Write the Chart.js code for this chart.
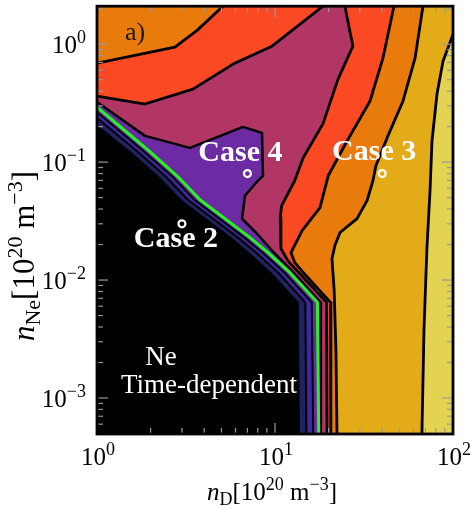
<!DOCTYPE html>
<html>
<head>
<meta charset="utf-8">
<title>Ne time-dependent scan</title>
<script src="https://cdn.jsdelivr.net/npm/chart.js@4.4.1/dist/chart.umd.min.js"></script>
<style>
  html, body { margin: 0; padding: 0; background: #ffffff; }
  canvas { display: block; }
</style>
</head>
<body>
<canvas id="scan" width="470" height="508"></canvas>
<script>
// axis limits, n_D and n_Ne in 10^20 m^-3
const ND_MIN = 1, ND_MAX = 100;
const NNE_MIN = 4.95e-4, NNE_MAX = 2.1;

// tick values and their labels (mantissa, exponent)
const xTickValues = [1, 10, 100];
const xTickLabels = [['10', '0'], ['10', '1'], ['10', '2']];
const yTickValues = [1, 0.1, 0.01, 0.001];
const yTickLabels = [['10', '0'], ['10', '\u22121'], ['10', '\u22122'], ['10', '\u22123']];

// contour boundaries as [n_D, n_Ne] vertices, lowest level first
const edgeBlackNavy = [[1, 0.207], [1.56, 0.122], [2.24, 0.0751], [2.98, 0.048], [5.7, 0.0229], [7.19, 0.0171], [9.56, 0.0116], [13.6, 0.00647], [13.8, NNE_MIN]];
const edgeNavyIndigo = [[1, 0.237], [1.7, 0.122], [2.44, 0.0751], [3.24, 0.048], [6.2, 0.0229], [7.82, 0.0171], [10.4, 0.0116], [14.8, 0.00647], [15.0, NNE_MIN]];
const edgeIndigoPurple = [[1, 0.266], [1.3, 0.191], [1.85, 0.122], [2.66, 0.0751], [3.53, 0.048], [6.74, 0.0229], [8.51, 0.0171], [11.3, 0.0116], [16.1, 0.00647], [16.4, NNE_MIN]];
const greenContour = [[1, 0.293], [1.4, 0.191], [1.99, 0.122], [2.85, 0.0751], [3.79, 0.048], [7.24, 0.0229], [9.14, 0.0171], [12.1, 0.0116], [17.3, 0.00647], [17.6, NNE_MIN]];
const edgePurpleBerry = [[1, 0.323], [1.86, 0.167], [3.33, 0.132], [6.61, 0.199], [8.45, 0.177], [8.56, 0.0766], [7.92, 0.0682], [6.78, 0.0519], [6.53, 0.0332], [7.82, 0.0253], [9.62, 0.0178], [12.7, 0.0116], [18.0, 0.00647], [18.1, NNE_MIN]];
const edgeBerryRedUpper = [[1, 0.363], [1.86, 0.311], [3.46, 0.416], [5.81, 0.678], [9.62, 0.962], [18.6, NNE_MAX]];
const edgeBerryRed = [[24.7, NNE_MAX], [27.4, 0.962], [22.6, 0.506], [18.6, 0.211], [14.4, 0.109], [12.9, 0.0695], [10.9, 0.0427], [10.7, 0.0338], [10.8, 0.0185], [11.8, 0.0146], [13.6, 0.0116], [19.5, 0.00647], [19.6, NNE_MIN]];
const edgeRedOrangeUpper = [[1, 0.691], [2.74, 0.943], [3.65, 1.31], [5.1, NNE_MAX]];
const edgeRedOrange = [[46.6, NNE_MAX], [40.4, 0.761], [34.2, 0.33], [25.4, 0.151], [19.9, 0.0766], [17.9, 0.0411], [14.2, 0.0263], [12.3, 0.0171], [12.9, 0.0141], [14.4, 0.0116], [20.5, 0.00647], [20.6, NNE_MIN]];
const edgeOrangeGold = [[67.8, NNE_MAX], [61.2, 0.761], [52.4, 0.33], [43.1, 0.167], [36.9, 0.0931], [35.5, 0.0695], [32.9, 0.0471], [28.9, 0.0332], [23.2, 0.0253], [21.7, 0.0196], [20.9, 0.0152], [21.5, 0.00817], [22.0, 0.00254], [22.3, NNE_MIN]];
const edgeGoldYellow = [[100, 1.21], [87.9, 0.718], [81.3, 0.378], [76.2, 0.151], [74.3, 0.0572], [71.4, 0.0189], [68.7, 0.00375], [66.9, NNE_MIN]];

// marked operating points
const caseNames = ['Case 2', 'Case 3', 'Case 4'];
const caseND = [3, 40, 7];
const caseNNe = [0.03, 0.08, 0.08];

// band colours
const C_YELLOW = '#e4d251', C_GOLD = '#e4ab18', C_ORANGE = '#e87b0b', C_RED = '#fb4923',
      C_BERRY = '#b13666', C_PURPLE = '#6c2ba2', C_INDIGO = '#3e27a0', C_NAVY = '#202262',
      C_BLACK = '#000000', C_GREEN = '#22f522';

const BL = [ND_MIN, NNE_MIN];
const fillLayers = [
  { pts: [[ND_MIN, NNE_MAX], [ND_MAX, NNE_MAX], [ND_MAX, NNE_MIN], BL], color: C_YELLOW },
  { pts: [[ND_MIN, NNE_MAX], [ND_MAX, NNE_MAX], ...edgeGoldYellow, BL], color: C_GOLD },
  { pts: [[ND_MIN, NNE_MAX], ...edgeOrangeGold, BL], color: C_ORANGE },
  { pts: [...edgeRedOrangeUpper, ...edgeRedOrange, BL], color: C_RED },
  { pts: [...edgeBerryRedUpper, ...edgeBerryRed, BL], color: C_BERRY },
  { pts: [...edgePurpleBerry, BL], color: C_PURPLE },
  { pts: [...edgeIndigoPurple, BL], color: C_INDIGO },
  { pts: [...edgeNavyIndigo, BL], color: C_NAVY },
  { pts: [...edgeBlackNavy, BL], color: C_BLACK }
];

const SERIF = '"Liberation Serif", "Times New Roman", serif';

// filled bands, painted from the outermost level inwards
const contourFill = {
  id: 'contourFill',
  beforeDatasetsDraw(chart) {
    const { ctx, chartArea: a, scales: { x, y } } = chart;
    ctx.save();
    ctx.beginPath();
    ctx.rect(a.left, a.top, a.right - a.left, a.bottom - a.top);
    ctx.clip();
    for (const layer of fillLayers) {
      ctx.beginPath();
      layer.pts.forEach(([nd, nne], i) => {
        const px = x.getPixelForValue(nd), py = y.getPixelForValue(nne);
        if (i) ctx.lineTo(px, py); else ctx.moveTo(px, py);
      });
      ctx.closePath();
      ctx.fillStyle = layer.color;
      ctx.fill();
    }
    ctx.restore();
  }
};

function richWidth(ctx, parts) {
  let w = 0;
  for (const p of parts) { ctx.font = p.f; w += ctx.measureText(p.t).width; }
  return w;
}
function drawRich(ctx, parts, x, y, align) {
  const w = richWidth(ctx, parts);
  let cx = align === 'center' ? x - w / 2 : align === 'right' ? x - w : x;
  ctx.textAlign = 'left';
  ctx.textBaseline = 'alphabetic';
  for (const p of parts) {
    ctx.font = p.f;
    ctx.fillText(p.t, cx, y + (p.dy || 0));
    cx += ctx.measureText(p.t).width;
  }
}
function unitParts(sym, sub, s) {
  const big = Math.round(25 * s) + 'px ' + SERIF, small = Math.round(18 * s) + 'px ' + SERIF;
  return [
    { t: sym, f: 'italic ' + big },
    { t: sub, f: small, dy: 5 * s },
    { t: '[10', f: big },
    { t: '20', f: small, dy: -10 * s },
    { t: ' m', f: big },
    { t: '\u22123', f: small, dy: -10 * s },
    { t: ']', f: big }
  ];
}

// frame, inward ticks, tick labels, axis titles and annotations
const decorations = {
  id: 'decorations',
  afterDraw(chart) {
    const { ctx, chartArea: a, scales: { x, y } } = chart;
    ctx.save();

    ctx.strokeStyle = '#9a9a9a';
    ctx.lineWidth = 1.2;
    const seg = (x1, y1, x2, y2) => { ctx.beginPath(); ctx.moveTo(x1, y1); ctx.lineTo(x2, y2); ctx.stroke(); };
    for (let k = 0; k <= 2; k++) {
      for (let m = 1; m <= 9; m++) {
        const v = m * Math.pow(10, k);
        if (v <= ND_MIN || v >= ND_MAX) continue;
        const px = x.getPixelForValue(v);
        const len = m === 1 ? 11 : 6;
        seg(px, a.bottom, px, a.bottom - len);
        seg(px, a.top, px, a.top + len);
      }
    }
    for (let k = -4; k <= 0; k++) {
      for (let m = 1; m <= 9; m++) {
        const v = m * Math.pow(10, k);
        if (v <= NNE_MIN || v >= NNE_MAX) continue;
        const py = y.getPixelForValue(v);
        const len = m === 1 ? 11 : 6;
        seg(a.left, py, a.left + len, py);
        seg(a.right, py, a.right - len, py);
      }
    }

    ctx.strokeStyle = '#000';
    ctx.lineWidth = 2.8;
    ctx.strokeRect(a.left, a.top, a.right - a.left, a.bottom - a.top);

    ctx.fillStyle = '#000';
    xTickValues.forEach((v, i) => {
      const [base, exp] = xTickLabels[i];
      drawRich(ctx, [{ t: base, f: '25px ' + SERIF }, { t: exp, f: '18px ' + SERIF, dy: -10 }],
        x.getPixelForValue(v) + 1, a.bottom + 31, 'center');
    });
    yTickValues.forEach((v, i) => {
      const [base, exp] = yTickLabels[i];
      drawRich(ctx, [{ t: base, f: '25px ' + SERIF }, { t: exp, f: '18px ' + SERIF, dy: -10 }],
        a.left - 11, y.getPixelForValue(v) + 9, 'right');
    });

    drawRich(ctx, unitParts('n', 'D', 1), (a.left + a.right) / 2 - 3, a.bottom + 66, 'center');
    ctx.save();
    ctx.translate(a.left - 63, 256);
    ctx.rotate(-Math.PI / 2);
    drawRich(ctx, unitParts('n', 'Ne', 1.22), 0, 0, 'center');
    ctx.restore();

    ctx.fillStyle = '#1a1a1a';
    ctx.font = '26px ' + SERIF;
    ctx.textAlign = 'left';
    ctx.fillText('a)', a.left + 28, a.top + 34);

    ctx.fillStyle = '#ffffff';
    ctx.textAlign = 'center';
    const caseOffsets = [[-6, 23], [-8, -14], [-7, -13]];
    caseNames.forEach((name, i) => {
      ctx.font = 'bold 30px ' + SERIF;
      ctx.fillText(name, x.getPixelForValue(caseND[i]) + caseOffsets[i][0],
        y.getPixelForValue(caseNNe[i]) + caseOffsets[i][1]);
    });
    ctx.font = '27px ' + SERIF;
    ctx.fillText('Ne', a.left + 64, a.top + 359);
    ctx.fillText('Time-dependent', a.left + 112, a.top + 387);

    ctx.restore();
  }
};

const contourLine = (pts, color, width, order) => ({
  type: 'line',
  data: pts.map(([nd, nne]) => ({ x: nd, y: nne })),
  borderColor: color,
  borderWidth: width,
  borderJoinStyle: 'round',
  pointRadius: 0,
  fill: false,
  tension: 0,
  order
});

const datasets = [
  {
    type: 'line',
    data: caseND.map((nd, i) => ({ x: nd, y: caseNNe[i] })),
    showLine: false,
    pointRadius: 3.5,
    pointBorderWidth: 2.2,
    pointBorderColor: '#ffffff',
    pointBackgroundColor: 'rgba(0,0,0,0)',
    order: 0
  },
  contourLine(greenContour, C_GREEN, 3, 1),
  contourLine(edgeNavyIndigo, '#000', 2, 2),
  contourLine(edgeIndigoPurple, '#000', 2, 2),
  contourLine(edgePurpleBerry, '#000', 2.5, 2),
  contourLine(edgeBerryRedUpper, '#000', 2.8, 2),
  contourLine(edgeBerryRed, '#000', 2.8, 2),
  contourLine(edgeRedOrangeUpper, '#000', 2.8, 2),
  contourLine(edgeRedOrange, '#000', 2.8, 2),
  contourLine(edgeOrangeGold, '#000', 2.8, 2),
  contourLine(edgeGoldYellow, '#000', 2.8, 2)
];

new Chart(document.getElementById('scan'), {
  type: 'line',
  data: { datasets },
  options: {
    responsive: false,
    animation: false,
    devicePixelRatio: 1,
    layout: { padding: { left: 97, right: 17, top: 5, bottom: 74 } },
    plugins: { legend: { display: false }, tooltip: { enabled: false } },
    scales: {
      x: { type: 'logarithmic', min: ND_MIN, max: ND_MAX, display: false },
      y: { type: 'logarithmic', min: NNE_MIN, max: NNE_MAX, display: false }
    }
  },
  plugins: [contourFill, decorations]
});
</script>
</body>
</html>
